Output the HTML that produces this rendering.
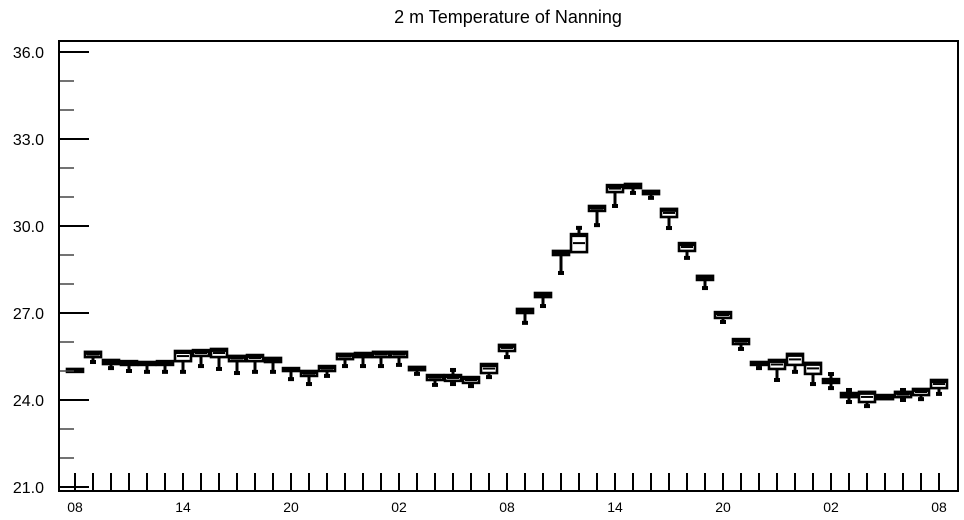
<!DOCTYPE html>
<html><head><meta charset="utf-8"><style>
html,body{margin:0;padding:0;background:#fff;width:964px;height:520px;overflow:hidden}
text{font-family:"Liberation Sans",sans-serif;fill:#000}
</style></head><body>
<svg id="chart" width="964" height="520" viewBox="0 0 964 520" xmlns="http://www.w3.org/2000/svg">
<text x="508" y="23" font-size="18" text-anchor="middle">2 m Temperature of Nanning</text>
<g id="marks"></g>
<g id="axes"></g>
<rect x="59" y="41" width="899" height="450" fill="none" stroke="#000" stroke-width="2"/>
</svg>
<script>
const hours = ["08","09","10","11","12","13","14","15","16","17","18","19","20","21","22","23","00","01","02","03","04","05","06","07","08","09","10","11","12","13","14","15","16","17","18","19","20","21","22","23","00","01","02","03","04","05","06","07","08"];
const q3Values = [25.07,25.66,25.38,25.34,25.31,25.34,25.69,25.72,25.76,25.52,25.55,25.45,25.10,25.00,25.17,25.59,25.62,25.66,25.66,25.14,24.86,24.86,24.79,25.24,25.90,27.14,27.69,29.14,29.72,30.69,31.41,31.45,31.21,30.59,29.41,28.28,27.03,26.10,25.31,25.38,25.59,25.28,24.72,24.24,24.28,24.17,24.28,24.38,24.69];
const q1Values = [24.97,25.48,25.24,25.21,25.21,25.21,25.34,25.52,25.48,25.34,25.34,25.31,25.00,24.83,25.00,25.41,25.48,25.48,25.48,25.03,24.69,24.66,24.59,24.93,25.69,27.00,27.55,29.00,29.10,30.52,31.17,31.31,31.10,30.31,29.14,28.14,26.83,25.93,25.21,25.07,25.21,24.90,24.59,24.10,23.93,24.03,24.10,24.17,24.41];
const minValues = [24.97,25.31,25.10,25.00,24.97,24.97,24.97,25.17,25.07,24.93,24.97,24.97,24.72,24.55,24.83,25.17,25.17,25.17,25.21,24.90,24.52,24.55,24.48,24.79,25.48,26.66,27.24,28.38,29.10,30.03,30.69,31.14,30.97,29.93,28.90,27.86,26.69,25.76,25.10,24.69,24.97,24.55,24.41,23.93,23.79,24.03,24.00,24.03,24.21];
const maxValues = [25.07,25.66,25.38,25.34,25.31,25.34,25.69,25.72,25.76,25.52,25.55,25.45,25.10,25.00,25.17,25.59,25.62,25.66,25.66,25.14,24.86,25.07,24.79,25.24,25.90,27.14,27.69,29.14,29.97,30.69,31.41,31.45,31.21,30.59,29.41,28.28,27.03,26.10,25.31,25.38,25.59,25.28,24.93,24.38,24.28,24.17,24.38,24.38,24.69];
const yTicks = [21,24,27,30,33,36];
const yTickLabels = ["21.0","24.0","27.0","30.0","33.0","36.0"];

const NS = "http://www.w3.org/2000/svg";
const yScale = v => 52 + (36 - v) * 29;
const xScale = i => 75 + i * 18;
function mk(tag, attrs, parent){const e=document.createElementNS(NS,tag);for(const k in attrs)e.setAttribute(k,attrs[k]);parent.appendChild(e);return e;}
const marks = document.getElementById('marks');
const axes = document.getElementById('axes');

hours.forEach((h,i)=>{
  const cx=xScale(i), half=8;
  const yTop=yScale(q3Values[i]), yBot=yScale(q1Values[i]);
  const yMin=yScale(minValues[i]), yMax=yScale(maxValues[i]);
  const yMed=(yTop+yBot)/2;
  const g=mk('g',{},marks);
  
  
  if(yMin-yBot>0.5){ mk('line',{x1:cx,x2:cx,y1:yBot,y2:yMin,stroke:'#000','stroke-width':3},g); mk('rect',{x:cx-3,y:yMin-2,width:6,height:4,fill:'#000'},g);}
  if(yTop-yMax>0.5){ mk('line',{x1:cx,x2:cx,y1:yMax,y2:yTop,stroke:'#000','stroke-width':3},g); mk('rect',{x:cx-3,y:yMax-1,width:6,height:4,fill:'#000'},g);}
  mk('rect',{x:cx-half,y:yTop,width:half*2,height:Math.max(yBot-yTop,2),fill:'#fff',stroke:'#000','stroke-width':2.6},g);
  mk('line',{x1:cx-half,x2:cx+half,y1:yTop+1.8,y2:yTop+1.8,stroke:'#000','stroke-width':2.4},g);
  mk('line',{x1:cx-half+2,x2:cx+half-2,y1:yMed,y2:yMed,stroke:'#000','stroke-width':2},g);
  const t=mk('line',{x1:cx,x2:cx,y1:491,y2:473,stroke:'#000','stroke-width':2},axes);
  
  
  if(i%6===0){
    const tx=mk('text',{x:cx,y:512,'font-size':14,'text-anchor':'middle'},axes);
    
    
    tx.textContent=h;
  }
});

for(let v=21; v<=36; v++){
  const y=yScale(v); const major=yTicks.includes(v);
  const l=mk('line',{x1:59,x2:major?89:74,y1:y,y2:y,stroke:major?'#000':'#444','stroke-width':major?2:1.5},axes);
  
  
}
yTicks.forEach((v,i)=>{
  const tx=mk('text',{x:44,y:yScale(v)+6,'font-size':16,'text-anchor':'end'},axes);
  
  
  tx.textContent=yTickLabels[i];
});
</script>
</body></html>
